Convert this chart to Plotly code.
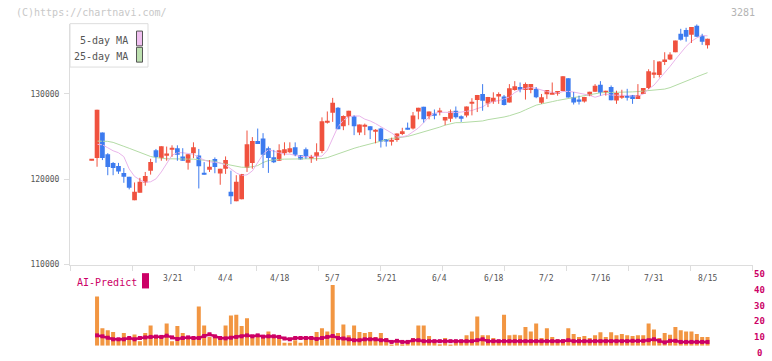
import plotly.graph_objects as go

# ---------------- data ----------------
open_ = [122200,122460,125460,122920,121880,121540,120730,120270,117530,118420,
         119610,120990,123380,122460,122850,123500,123620,122660,121920,123040,
         122770,120730,121110,122350,120650,121220,118530,117410,117640,121300,
         121900,124460,124770,123620,122570,122150,123040,123150,123730,122800,
         123500,122480,122660,123300,126680,127770,128350,126190,127310,127350,
         125460,126220,126190,125590,125930,124690,124440,124570,125270,126010,
         125930,127920,128470,127350,127690,127810,126850,127080,128000,127350,
         127460,128910,129270,129970,128850,129040,129660,129660,128960,130430,
         130780,130430,130430,130550,128930,129930,129930,130080,130310,131820,
         129620,129270,129080,129770,130230,131040,130120,130770,129190,129570,
         129740,129850,129390,129970,130660,132340,132200,133700,134010,134850,
         137010,137440,136900,137940,136780,135660]
high = [122250,128120,125460,123040,122000,121900,121300,120270,119610,120150,
        120840,122380,123530,123850,123810,123960,123960,123620,122920,124310,
        123530,121990,122230,122540,121220,122660,120990,120460,120610,125690,
        124920,125920,125380,123810,123420,124080,124310,124310,124300,122800,
        123700,122840,124190,127230,127920,129510,128430,127460,128000,127460,
        126390,126500,126190,125840,126010,124690,124850,125350,126010,126620,
        127850,128350,128470,127920,128150,128350,127280,128150,128500,127460,
        128500,129470,129850,131120,129620,130160,130160,129850,131120,131470,
        131310,131310,131120,130780,129970,130430,131310,130310,132050,131820,
        130200,129770,129620,130230,131120,131470,130350,130960,130350,130460,
        130570,129850,131120,130660,132860,133930,133780,134850,134850,136210,
        137590,137710,137790,138100,137010,136440]
low = [122200,121450,122230,120460,120460,120610,119570,118800,117530,118420,
       119230,120530,121920,122150,122150,122610,122150,122150,121110,122460,
       118910,120530,120840,120690,119340,120610,117070,117410,117640,120840,
       121220,124110,121300,120730,121880,122150,122770,123040,122680,122300,
       122380,121900,122150,123040,126500,126700,125840,125730,126310,125150,
       125150,125150,124690,124190,123700,123810,123930,124370,125150,125810,
       125810,127000,126620,127000,127000,127460,126310,126700,127080,126700,
       127230,127460,127850,128000,128430,128810,128810,128620,128960,130350,
       130160,129310,130050,129470,128810,129390,129930,129770,130310,129540,
       128730,128730,128960,129700,130230,129770,129770,129230,128810,129390,
       129190,128810,129390,129970,130540,131820,131900,133350,133930,134850,
       136210,136090,135940,136670,135710,135280]
close = [122250,128120,122460,121420,121300,120880,120270,119000,118530,119690,
         120380,122000,122580,123850,122900,123550,122840,122150,122920,123730,
         121500,120530,121460,121420,121220,122230,117990,119690,120610,124080,
         124460,124110,122840,122460,121990,123380,123500,123620,122840,122300,
         122560,122520,123150,126770,126720,128930,125840,127390,128000,126190,
         126390,126260,125730,125630,124390,124390,124480,125350,125610,125810,
         127460,128350,127000,127920,127460,128040,127280,127920,127230,127160,
         128500,128950,129850,129160,129620,129510,129970,128690,130630,130860,
         130550,131120,131120,129590,129590,130430,130080,130310,132050,129540,
         128960,129160,129620,130230,130930,130120,130350,129230,130080,129610,
         129540,129390,129850,130660,132620,132380,133780,134010,134590,136210,
         136320,136670,137790,136670,136090,136440]

ma5 = [None,124070,124020,123670,123320,123090,122630,121190,120320,119920,119630,
       119690,120030,120840,121880,122800,123090,123090,123000,122920,122540,
       122230,122030,121960,121880,121650,121190,120730,120440,120500,120960,
       121880,122920,123440,123270,123040,122920,122920,122800,122650,122650,
       122650,122650,122690,123380,124770,126150,126880,127300,127390,127390,
       127020,126810,126500,126150,125750,125400,124960,124940,125110,125520,
       125980,126610,127300,127710,127820,127820,127770,127800,127850,127960,
       128030,128260,128460,128860,129090,129190,129380,129610,130130,130460,
       130620,130730,130620,130420,130250,130160,130070,130250,130270,130190,
       130070,129960,129810,129580,129790,129960,129840,129840,129790,129790,
       129730,129730,129960,130540,131000,131690,132380,133190,134000,134750,
       135530,136130,136540,136800,136770]
ma25 = [None,124450,124450,124420,124300,124110,123840,123610,123380,123150,122920,
        122650,122520,122430,122380,122380,122340,122340,122340,122340,122290,
        122230,122170,122080,121880,121770,121620,121480,121390,121390,121440,
        121590,121940,122170,122260,122310,122340,122340,122340,122340,122340,
        122340,122340,122400,122520,122750,122980,123150,123380,123610,123790,
        123960,124130,124250,124480,124630,124770,124820,124880,125000,125170,
        125340,125520,125690,125860,126090,126320,126500,126610,126610,126650,
        126690,126730,126810,126960,127040,127150,127270,127420,127590,127820,
        128110,128400,128660,128800,128980,129070,129210,129320,129460,129580,
        129690,129790,129900,130020,130100,130130,130130,130160,130170,130190,
        130210,130250,130310,130360,130420,130480,130540,130710,130940,131170,
        131460,131720,131980,132210,132460]

volume = [None,31.5,11.3,9.9,8.8,4.6,8.2,5.0,7.3,2.9,8.2,
          13.0,5.7,5.7,14.3,2.9,12.6,8.2,5.0,5.0,25.2,
          13.0,5.7,6.7,5.0,13.0,19.3,19.9,12.6,17.6,5.7,
          5.7,5.7,9.2,5.7,5.0,1.9,1.9,3.6,1.9,5.7,
          6.1,8.8,11.3,9.2,38.8,8.2,13.6,6.7,13.0,8.8,
          8.2,8.8,5.7,8.2,5.0,0.8,1.9,1.0,1.9,5.0,
          13.0,13.0,6.3,2.5,1.0,5.0,0.4,2.5,2.5,6.7,
          9.2,18.7,6.7,6.7,5.0,2.5,19.9,6.7,7.1,6.7,
          12.0,9.2,14.3,5.0,11.3,5.7,4.2,4.2,11.3,7.6,
          5.7,6.3,5.0,6.7,8.6,5.7,8.6,6.7,7.6,6.7,
          6.3,6.7,6.7,14.3,10.5,5.0,8.2,7.1,12.0,9.9,
          9.2,9.2,7.6,5.7,5.7]
ai_predict = [None,11.1,10.5,9.6,8.6,8.6,8.6,9.4,8.6,9.4,9.8,
              10.1,10.3,10.1,10.9,9.8,8.8,9.4,9.8,9.4,9.4,
              10.7,11.8,10.5,9.4,9.2,9.6,10.1,10.5,11.1,10.5,
              11.1,10.3,10.5,10.5,10.1,9.1,8.6,9.4,9.4,9.4,
              9.4,8.8,9.4,10.1,10.7,9.4,9.1,8.6,8.0,8.0,
              8.6,8.6,8.6,8.0,8.0,6.9,7.6,6.9,6.9,8.0,
              8.0,7.4,7.4,7.4,7.4,7.4,7.4,7.4,7.4,7.4,
              7.4,8.0,8.6,7.4,7.4,7.4,7.4,7.4,7.4,7.4,
              7.4,7.4,7.4,7.4,7.4,7.4,7.4,7.4,8.0,7.4,
              7.4,7.4,7.4,7.4,7.4,7.4,7.4,7.4,7.4,7.4,
              7.6,7.6,7.6,8.0,8.6,7.6,6.6,7.6,7.6,6.9,
              6.9,6.9,6.9,6.9,6.9]

date_labels = ["3/21","4/4","4/18","5/7","5/21","6/4","6/18","7/2","7/16","7/31","8/15"]
date_index = [15,25,35,45,55,65,75,85,95,105,115]
price_ticks = [110000,120000,130000]
ai_ticks = [0,10,20,30,40,50]

# ---------------- style / geometry ----------------
W, H = 772, 361
def px(x): return x / W
def py(y): return 1 - y / H

FONT = "DejaVu Sans Mono"
UP, DOWN = "#f0523f", "#3d7bef"
PINK, GREEN = "#e9b4ea", "#b3dba5"
MAG = "#cc0066"
ORANGE = "#f29642"
AXC = "#dddddd"

first_px, step_px = 91.7, 5.355
XMIN = (70 - first_px) / step_px
XMAX = (753 - first_px) / step_px
YTOP = 110000 + (268.3 - 24) * 20000 / 173.3

idx = list(range(len(close)))
colors = [UP if c >= o else DOWN for o, c in zip(open_, close)]
bases = [min(o, c) for o, c in zip(open_, close)]
heights = [max(abs(c - o), 150) for o, c in zip(open_, close)]

fig = go.Figure()
fig.add_trace(go.Scatter(x=idx, y=ma25, mode="lines", line=dict(color=GREEN, width=1),
                         hoverinfo="skip", showlegend=False))
fig.add_trace(go.Scatter(x=idx, y=ma5, mode="lines", line=dict(color=PINK, width=1),
                         hoverinfo="skip", showlegend=False))

for col in (UP, DOWN):
    wx, wy = [], []
    for i in idx:
        if colors[i] == col:
            wx += [i, i, None]
            wy += [low[i], high[i], None]
    fig.add_trace(go.Scatter(x=wx, y=wy, mode="lines", line=dict(color=col, width=1),
                             hoverinfo="skip", showlegend=False))

fig.add_trace(go.Bar(x=idx, y=heights, base=bases, width=0.88,
                     marker=dict(color=colors, line=dict(width=0)), showlegend=False))

fig.add_trace(go.Bar(x=idx, y=volume, width=0.75, xaxis="x2", yaxis="y2",
                     marker=dict(color=ORANGE, line=dict(width=0)), showlegend=False))
fig.add_trace(go.Scatter(x=idx, y=ai_predict, xaxis="x2", yaxis="y3", mode="lines+markers",
                         line=dict(color=MAG, width=2.5),
                         marker=dict(symbol="square", size=4, color=MAG),
                         showlegend=False, cliponaxis=False))

tick_step = 62 / step_px
xticks = [XMIN + k * tick_step for k in range(12)]

annotations = []
annotations.append(dict(x=px(14), y=py(12.5), xref="paper", yref="paper", xanchor="left",
                        yanchor="middle", text="(C)https://chartnavi.com/", showarrow=False,
                        font=dict(family=FONT, size=10, color="#c8c8c8")))
annotations.append(dict(x=px(757), y=py(12.5), xref="paper", yref="paper", xanchor="right",
                        yanchor="middle", text="3281", showarrow=False,
                        font=dict(family=FONT, size=10, color="#b4b4b4")))
annotations.append(dict(x=px(130), y=py(41), xref="paper", yref="paper", xanchor="right",
                        yanchor="middle", text="5-day MA", showarrow=False,
                        font=dict(family=FONT, size=10, color="#555555")))
annotations.append(dict(x=px(130), y=py(57), xref="paper", yref="paper", xanchor="right",
                        yanchor="middle", text="25-day MA", showarrow=False,
                        font=dict(family=FONT, size=10, color="#555555")))
annotations.append(dict(x=px(75), y=py(286), xref="paper", yref="paper", xanchor="left",
                        yanchor="middle", text="AI-Predict", showarrow=False,
                        font=dict(family=FONT, size=10, color=MAG)))
for lab, i in zip(date_labels, date_index):
    annotations.append(dict(x=i, y=py(282.5), xref="x", yref="paper", xanchor="center",
                            yanchor="middle", text=lab, showarrow=False,
                            font=dict(family=FONT, size=8, color="#555555")))
for v in ai_ticks:
    annotations.append(dict(x=px(759.5), y=v, xref="paper", yref="y3", xanchor="center",
                            yanchor="middle", text=str(v), showarrow=False,
                            font=dict(family=FONT, size=9, color=MAG, weight="bold")))

shapes = [
    dict(type="rect", xref="paper", yref="paper", x0=px(70), x1=px(148), y0=py(68), y1=py(24),
         line=dict(color=AXC, width=1), fillcolor="white", layer="below"),
    dict(type="rect", xref="paper", yref="paper", x0=px(136.5), x1=px(142.5), y0=py(46.5), y1=py(31.5),
         line=dict(color="#555555", width=1), fillcolor="#f0c0f0"),
    dict(type="rect", xref="paper", yref="paper", x0=px(136.5), x1=px(142.5), y0=py(63), y1=py(48),
         line=dict(color="#555555", width=1), fillcolor="#bde0b0"),
    dict(type="rect", xref="paper", yref="paper", x0=px(142), x1=px(149), y0=py(292.5), y1=py(277),
         line=dict(width=0), fillcolor=MAG),
]

fig.update_layout(
    width=W, height=H, margin=dict(l=0, r=0, t=0, b=0),
    paper_bgcolor="white", plot_bgcolor="rgba(0,0,0,0)",
    barmode="overlay", showlegend=False,
    font=dict(family=FONT),
    xaxis=dict(domain=[px(70), px(753)], range=[XMIN, XMAX], anchor="y",
               showline=True, linecolor=AXC, linewidth=1, showgrid=False, zeroline=False,
               tickmode="array", tickvals=xticks, ticks="outside", ticklen=5, tickcolor=AXC,
               tickwidth=1, showticklabels=False),
    xaxis4=dict(overlaying="x", range=[XMIN, XMAX], anchor="y", showline=False, showgrid=False,
                zeroline=False, tickmode="array", tickvals=xticks, ticks="inside", ticklen=3,
                tickcolor=AXC, tickwidth=1, showticklabels=False),
    yaxis=dict(domain=[py(268.3), py(24)], range=[110000, YTOP], anchor="x",
               showline=True, linecolor=AXC, linewidth=1, showgrid=False, zeroline=False,
               tickmode="array", tickvals=price_ticks, ticktext=[str(v) for v in price_ticks],
               ticks="outside", ticklen=5, tickcolor=AXC, ticklabelstandoff=3,
               tickfont=dict(family=FONT, size=8, color="#555555")),
    xaxis2=dict(domain=[px(70), px(753)], range=[XMIN, XMAX], anchor="y2", visible=False),
    yaxis2=dict(domain=[py(350.7), py(271.3)], range=[0, 50], anchor="x2", visible=False),
    yaxis3=dict(domain=[py(357.7), py(278.3)], range=[0, 50], anchor="x2", visible=False),
    annotations=annotations, shapes=shapes,
)

fig.write_html("out.html", config={"displayModeBar": False},
               post_script="document.body.style.margin='0px';document.body.style.overflow='hidden';")
